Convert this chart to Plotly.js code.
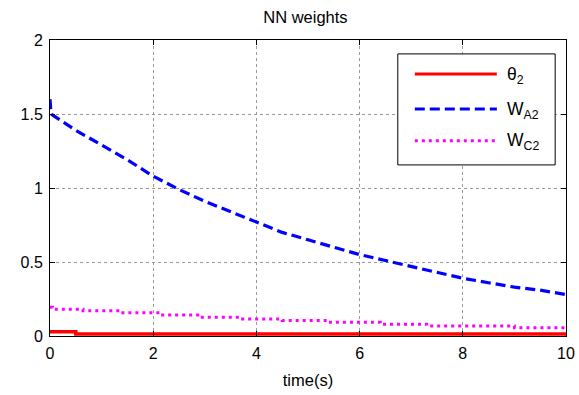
<!DOCTYPE html>
<html>
<head>
<meta charset="utf-8">
<script src="https://cdn.plot.ly/plotly-3.0.1.min.js"></script>
<style>html,body{margin:0;padding:0;background:#fff;}#chart{width:579px;height:395px;}</style>
</head>
<body>
<div id="chart"></div>
<script>
// theta_2
const tTheta = [0, 0.5, 10];
const theta2 = [0.028, 0.013, 0.013];
// W_A2
const tWA = [0, 0.02, 0.5, 1, 1.5, 2, 2.5, 3, 3.5, 4, 4.5, 5, 5.5, 6, 6.5, 7, 7.5, 8, 8.5, 9, 9.5, 10];
const wA2 = [1.60, 1.50, 1.39, 1.29, 1.19, 1.08, 0.99, 0.91, 0.84, 0.77, 0.70, 0.65, 0.60, 0.55, 0.51, 0.47, 0.43, 0.39, 0.36, 0.33, 0.31, 0.28];
// W_C2
const tWC = [0, 0.05, 0.64, 1.36, 2.13, 2.9, 3.7, 4.5, 5.4, 6.4, 7.3, 9.0, 10];
const wC2 = [0.195, 0.18, 0.17, 0.157, 0.142, 0.126, 0.115, 0.105, 0.093, 0.08, 0.068, 0.056, 0.056];

const xTicks = [0, 2, 4, 6, 8, 10];
const yTicks = [0, 0.5, 1, 1.5, 2];
const yTickText = ['0', '0.5', '1', '1.5', '2'];
const legendNames = ['θ<sub>2</sub>', 'W<sub>A2</sub>', 'W<sub>C2</sub>'];
const colors = ['#ff0000', '#0000ff', '#ff00ff'];
const dashes = ['solid', '10px,5px', '3px,4px'];

const traces = [
  {x: tTheta, y: theta2, mode: 'lines', line: {color: colors[0], width: 3.5, shape: 'hv', dash: dashes[0]}},
  {x: tWA, y: wA2, mode: 'lines', line: {color: colors[1], width: 3.2, dash: dashes[1]}},
  {x: tWC, y: wC2, mode: 'lines', line: {color: colors[2], width: 3, shape: 'hv', dash: dashes[2]}}
];

const fam = 'Liberation Sans, Arial, sans-serif';
const font = {family: fam, size: 16, color: '#000'};

// custom legend
const lx0 = 0.674, lx1 = 0.979, ly0 = 0.578, ly1 = 0.953;
const rowY = [0.885, 0.767, 0.660];
const shapes = [{type: 'rect', xref: 'paper', yref: 'paper', x0: lx0, x1: lx1, y0: ly0, y1: ly1,
  line: {color: '#000', width: 1}, fillcolor: '#fff', layer: 'above'}];
const annotations = [];
for (let i = 0; i < 3; i++) {
  shapes.push({type: 'line', xref: 'paper', yref: 'paper', x0: 0.707, x1: 0.866, y0: rowY[i], y1: rowY[i],
    line: {color: colors[i], width: 3, dash: dashes[i]}, layer: 'above'});
  annotations.push({xref: 'paper', yref: 'paper', x: 0.881, y: rowY[i] - 0.004, xanchor: 'left', yanchor: 'middle',
    text: legendNames[i], showarrow: false, font: {family: fam, size: 17.5, color: '#000'}});
}

const axisCommon = {
  showline: true, linecolor: '#000', linewidth: 1, mirror: 'ticks',
  ticks: 'inside', ticklen: 5, tickcolor: '#000',
  showgrid: true, gridcolor: '#999', griddash: 'dot', gridwidth: 1,
  zeroline: false, tickfont: font
};

const layout = {
  width: 579, height: 395,
  margin: {l: 50, r: 13, t: 40, b: 59},
  paper_bgcolor: '#fff', plot_bgcolor: '#fff',
  showlegend: false,
  title: {text: 'NN weights', font: {family: fam, size: 16.5, color: '#000'}, xref: 'paper', x: 0.495, xanchor: 'center', y: 0.957, yanchor: 'middle'},
  xaxis: Object.assign({}, axisCommon, {range: [0, 10], tickvals: xTicks, ticktext: xTicks.map(String),
    ticklabelstandoff: 3,
    title: {text: 'time(s)', font: {family: fam, size: 16.5, color: '#000'}, standoff: 13}}),
  yaxis: Object.assign({}, axisCommon, {range: [0, 2], tickvals: yTicks, ticktext: yTickText, ticklabelstandoff: 3}),
  shapes: shapes,
  annotations: annotations
};

Plotly.newPlot('chart', traces, layout, {staticPlot: true, displayModeBar: false});
</script>
</body>
</html>
